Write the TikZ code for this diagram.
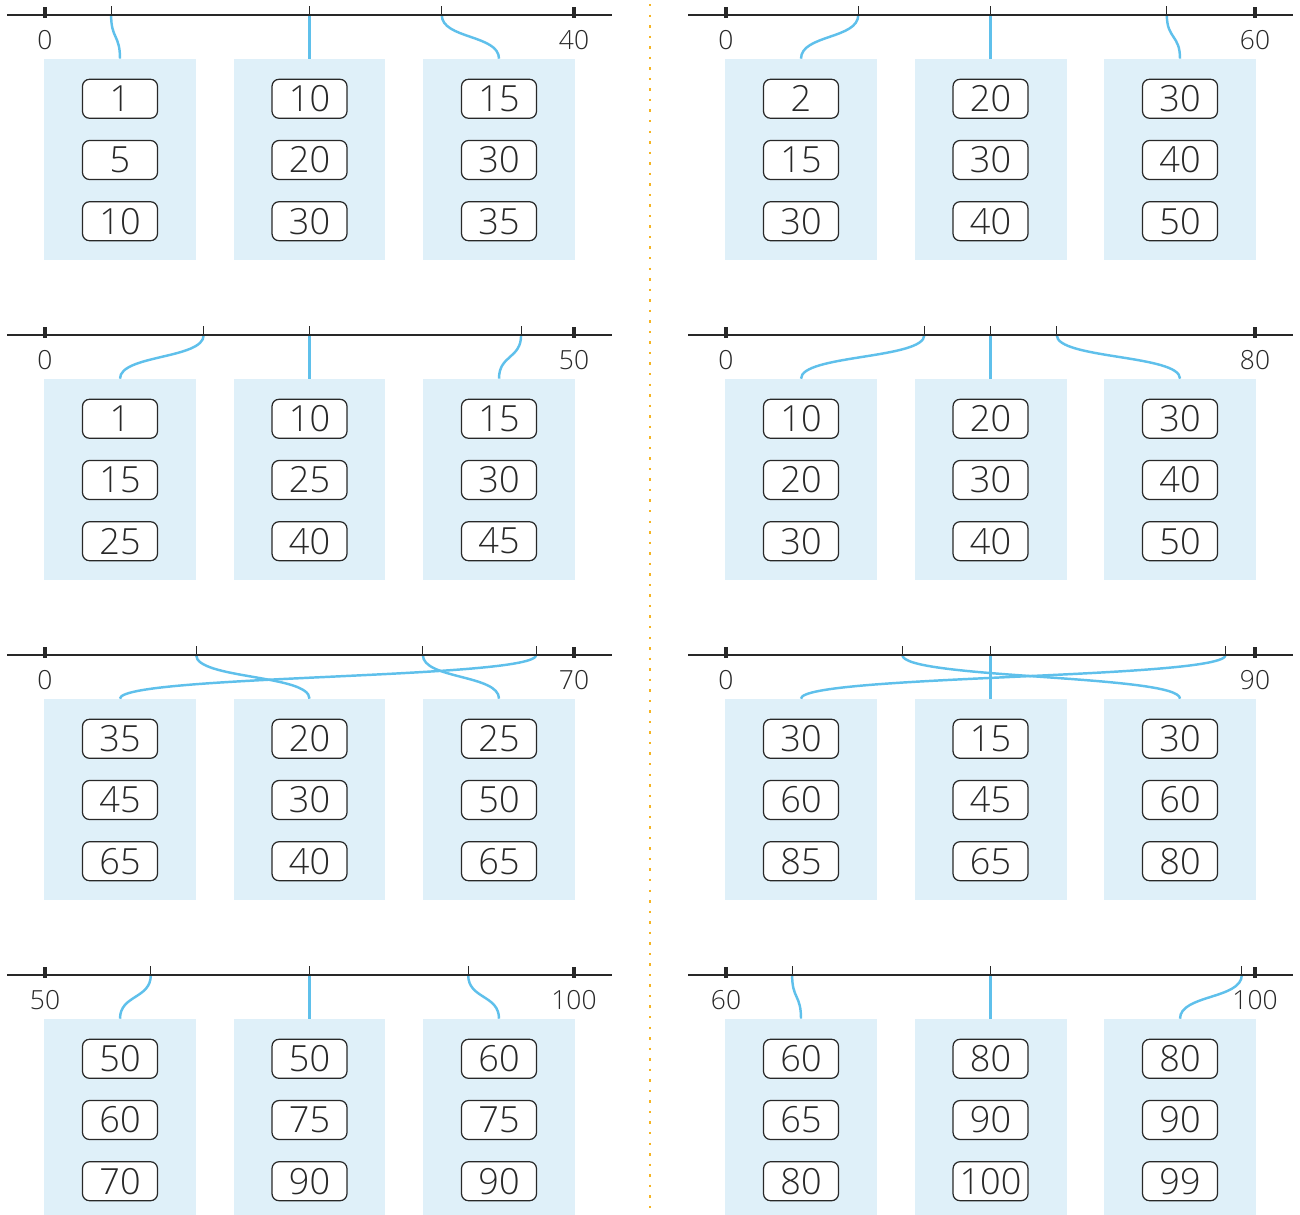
\documentclass[tikz,border=0pt]{standalone}
\usepackage{fontspec}
\setmainfont{Open Sans}[UprightFont={* Light}]
\usetikzlibrary{positioning,calc}
\definecolor{axisgray}{RGB}{40,40,40}
\definecolor{linkblue}{RGB}{95,192,235}
\definecolor{boxblue}{RGB}{223,240,249}
\definecolor{dotamber}{RGB}{245,180,35}
\tikzset{
  groupbox/.style={rectangle,fill=boxblue,minimum width=3.04cm,minimum height=4.02cm,inner sep=0pt},
  numbox/.style={rectangle,rounded corners=4pt,draw=axisgray,fill=white,line width=0.7pt,
    minimum width=1.5cm,minimum height=0.78cm,inner sep=0pt,text=axisgray,font=\fontsize{20.5}{22}\selectfont},
  axisline/.style={axisgray,line width=1.3pt},
  endtick/.style={axisgray,line width=2pt},
  valtick/.style={axisgray,line width=0.5pt},
  ticklabel/.style={inner sep=0pt,text=axisgray,font=\fontsize{15}{17}\selectfont},
  link/.style={linkblue,line width=1.4pt},
  sepline/.style={dotamber,line width=1.4pt,dash pattern=on 1.4pt off 4.6pt}
}

\begin{document}
\begin{tikzpicture}[x=0.02cm,y=-0.02cm]
  \useasboundingbox (0,0) rectangle (1300,1214);

  % panel / axis range / columns: index/top/middle/bottom/linked tick value
  \foreach \p/\ox/\oy/\lo/\hi/\cols in {
    1/0/15/0/40/{1/1/5/10/5, 2/10/20/30/20, 3/15/30/35/30},
    2/681/15/0/60/{1/2/15/30/15, 2/20/30/40/30, 3/30/40/50/50},
    3/0/335/0/50/{1/1/15/25/15, 2/10/25/40/25, 3/15/30/45/45},
    4/681/335/0/80/{1/10/20/30/30, 2/20/30/40/40, 3/30/40/50/50},
    5/0/655/0/70/{1/35/45/65/65, 2/20/30/40/20, 3/25/50/65/50},
    6/681/655/0/90/{1/30/60/85/85, 2/15/45/65/45, 3/30/60/80/30},
    7/0/975/50/100/{1/50/60/70/60, 2/50/75/90/75, 3/60/75/90/90},
    8/681/975/60/100/{1/60/65/80/65, 2/80/90/100/80, 3/80/90/99/99}}{
    \foreach \k/\a/\b/\c/\t in \cols {
      \node[groupbox] (p\p-g\k) at (\ox+120+189.5*\k-189.5,\oy+144.5) {};
      \node[numbox,below=0.4cm of p\p-g\k.north] (p\p-n\k a) {\a};
      \node[numbox,below=0.42cm of p\p-n\k a] (p\p-n\k b) {\b};
      \node[numbox,below=0.42cm of p\p-n\k b] (p\p-n\k c) {\c};
      \pgfmathsetmacro\tx{\ox+45+(\t-\lo)/(\hi-\lo)*529}
      \coordinate (p\p-t\k) at (\tx,\oy);
      \draw[valtick] (p\p-t\k) -- ++(0,-9);
      \draw[link] (p\p-t\k) .. controls +(0,24) and +(0,-24) .. (p\p-g\k.north);
    }
    \coordinate (p\p-lo) at (\ox+45,\oy);
    \coordinate (p\p-hi) at (\ox+574,\oy);
    \draw[axisline] (\ox+7,\oy) -- (\ox+612,\oy);
    \draw[endtick] (p\p-lo) ++(0,3) -- ++(0,-11);
    \draw[endtick] (p\p-hi) ++(0,3) -- ++(0,-11);
    \node[ticklabel] (p\p-l0) at ($(p\p-lo)+(0,25)$) {\lo};
    \node[ticklabel] (p\p-l1) at ($(p\p-hi)+(0,25)$) {\hi};
  }

  % dotted separator
  \draw[sepline] (650,4) -- (650,1214);
\end{tikzpicture}
\end{document}
